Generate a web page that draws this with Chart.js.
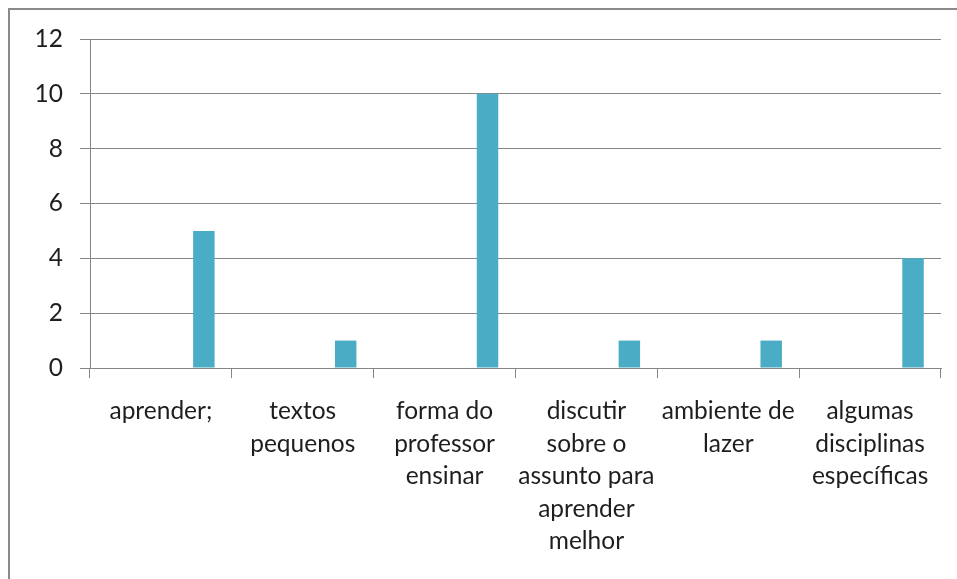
<!DOCTYPE html>
<html lang="pt">
<head>
<meta charset="utf-8">
<title>Gráfico</title>
<script src="https://cdn.jsdelivr.net/npm/chart.js@4.4.1/dist/chart.umd.min.js"></script>
<style>
    html, body { margin: 0; padding: 0; background: #fff; overflow: hidden; }
    .wrap { position: relative; width: 957px; height: 579px; }
    .frame {
        position: absolute; left: 8px; top: 8px;
        width: 1200px; height: 900px;
        border: 2px solid #8a8a8a;
    }
    canvas { position: absolute; left: 0; top: 0; }
</style>
</head>
<body>
<div class="wrap">
    <div class="frame"></div>
    <canvas id="chart" width="957" height="579"></canvas>
</div>
<script>
// categorias (rótulos do eixo x, quebrados em linhas como no original)
const categories = [
    ['aprender;'],
    ['textos', 'pequenos'],
    ['forma do', 'professor', 'ensinar'],
    ['discutir', 'sobre o', 'assunto para', 'aprender', 'melhor'],
    ['ambiente de', 'lazer'],
    ['algumas', 'disciplinas', 'específicas']
];

// séries: só a última tem valores, as outras ficam vazias
const serie1 = [null, null, null, null, null, null];
const serie2 = [null, null, null, null, null, null];
const serie3 = [null, null, null, null, null, null];
const serie4 = [null, null, null, null, null, null];
const serie5 = [5, 1, 10, 1, 1, 4];

const yTicks = [0, 2, 4, 6, 8, 10, 12];

document.addEventListener("DOMContentLoaded", function() {
    const ctx = document.getElementById('chart').getContext('2d');
    const barColor = '#4BACC6';
    const gridColor = '#868686';
    const font = { family: 'Lato, "Open Sans", sans-serif', size: 24.5 };

    const series = [serie1, serie2, serie3, serie4, serie5];
    const datasets = series.map((values, i) => ({
        label: 'Série ' + (i + 1),
        data: values,
        backgroundColor: barColor,
        borderWidth: 0,
        categoryPercentage: 0.757,
        barPercentage: 1
    }));

    new Chart(ctx, {
        type: 'bar',
        data: { labels: categories, datasets: datasets },
        options: {
            responsive: false,
            animation: false,
            layout: { padding: { top: 39, right: 16, left: 0, bottom: 0 } },
            plugins: {
                legend: { display: false },
                tooltip: { enabled: false }
            },
            scales: {
                x: {
                    grid: {
                        offset: true,
                        drawOnChartArea: false,
                        drawTicks: true,
                        tickLength: 10,
                        color: gridColor
                    },
                    border: { color: gridColor, width: 1 },
                    ticks: {
                        color: '#1e1e1e',
                        font: Object.assign({}, font, { lineHeight: 1.327 }),
                        padding: 17,
                        maxRotation: 0,
                        autoSkip: false
                    },
                    afterFit: function(scale) { scale.height = 211; }
                },
                y: {
                    min: 0,
                    max: 12,
                    afterBuildTicks: function(scale) {
                        scale.ticks = yTicks.map(v => ({ value: v }));
                    },
                    grid: {
                        color: gridColor,
                        tickLength: 10,
                        drawTicks: true
                    },
                    border: { color: gridColor, width: 1 },
                    ticks: {
                        color: '#1e1e1e',
                        font: font,
                        padding: 17
                    },
                    afterFit: function(scale) { scale.width = 90; }
                }
            }
        }
    });
});
</script>
</body>
</html>
